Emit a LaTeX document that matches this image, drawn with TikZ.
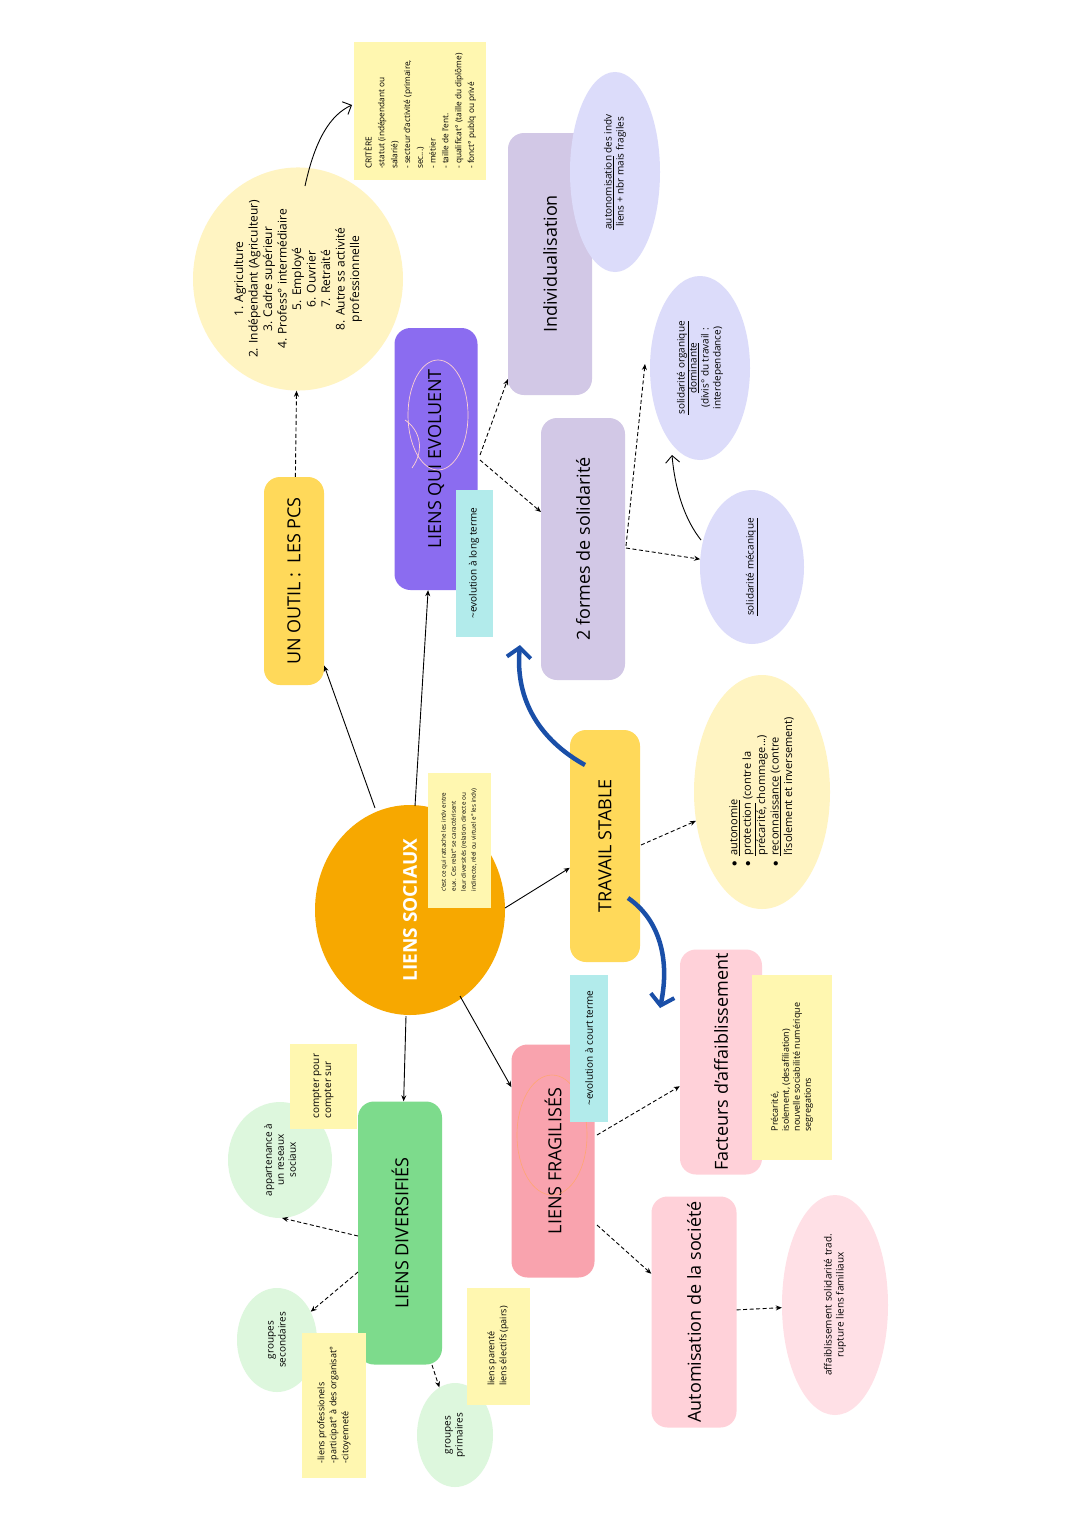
\documentclass[tikz,border=0pt]{standalone}
\usepackage{fontspec}
\setmainfont{Open Sans}
\usetikzlibrary{arrows.meta,shapes.geometric}
\definecolor{orangeM}{HTML}{F7A800}
\definecolor{yelB}{HTML}{FFD95A}
\definecolor{yelL}{HTML}{FFF4C2}
\definecolor{note}{HTML}{FFF7B0}
\definecolor{purp}{HTML}{8B6CF0}
\definecolor{lav}{HTML}{D2C8E6}
\definecolor{lavL}{HTML}{DCDCFA}
\definecolor{cyanN}{HTML}{B2EBEB}
\definecolor{pinkB}{HTML}{F9A3AE}
\definecolor{pinkL}{HTML}{FFD1D9}
\definecolor{pinkE}{HTML}{FFE0E6}
\definecolor{grn}{HTML}{7DDB8C}
\definecolor{grnL}{HTML}{DDF7DD}
\definecolor{blueA}{HTML}{1A4FA8}
\tikzset{
 box/.style={rounded corners=16pt,rotate=90,inner sep=2pt,font=\fontsize{18}{20}\selectfont,align=center},
 ell/.style={ellipse,inner sep=0pt,rotate=90,align=center},
 stick/.style={rectangle,rotate=90,inner sep=5pt,align=left,anchor=center},
 sol/.style={-{Stealth[length=6pt,width=5pt]},line width=0.9pt},
 dsh/.style={-{Stealth[length=6pt,width=5pt]},line width=0.9pt,dashed,dash pattern=on 4pt off 2.5pt},
 bluearr/.style={blueA,line width=4.5pt,-{Straight Barb[length=10pt,width=24pt,line width=4pt]}}
}
\begin{document}
\begin{tikzpicture}[x=1pt,y=-1pt]
\useasboundingbox[fill=white] (0,0) rectangle (1080,1528);
% central
\node[ell,fill=orangeM,minimum width=210pt,minimum height=190pt,text=white,font=\bfseries\fontsize{19}{21}\selectfont] (ls) at (410,910) {LIENS SOCIAUX};
\node[stick,fill=note,minimum width=135pt,minimum height=63pt,font=\fontsize{6.3}{10}\selectfont] (lsn) at (459,840) {c'est ce qui rattache les indv entre\\ eux. Ces relat° se caractérisent\\ leur diversités (relation directe ou\\ indirecte, réel ou virtuel e° les indv)};
% PCS
\node[box,fill=yelB,minimum width=208pt,minimum height=60pt] (pcs) at (294,581) {UN OUTIL :\ \ LES PCS};
\node[ell,fill=yelL,minimum width=200pt,minimum height=210pt,font=\fontsize{12}{14.5}\selectfont] (pcse) at (298,279) {1. Agriculture\\2. Indépendant (Agriculteur)\\3. Cadre supérieur\\4. Profess° intermédiaire\\5. Employé\\6. Ouvrier\\7. Retraité\\8. Autre ss activité\\professionnelle};
\node[stick,fill=note,minimum width=138pt,minimum height=132pt,font=\fontsize{8.3}{12.8}\selectfont] (crit) at (420,111) {CRITÈRE\\-statut (indépendant ou\\ salarié)\\- secteur d'activité (primaire,\\ sec...)\\- métier\\- taille de l'ent.\\- qualificat° (taille du diplôme)\\- fonct° publq ou privé};
% evolving
\node[box,fill=purp,minimum width=262pt,minimum height=83pt] (lqe) at (436,459) {LIENS QUI EVOLUENT};
\draw[pink!70,line width=0.7pt] (438,415) ellipse[x radius=30pt,y radius=55pt];
\draw[pink!70,line width=0.7pt] (405,420) .. controls (420,430) and (425,450) .. (412,468);
\node[stick,fill=cyanN,minimum width=147pt,minimum height=37pt,font=\fontsize{10}{12}\selectfont] (lqen) at (474,563) {\textasciitilde evolution à long terme};
\node[box,fill=lav,minimum width=262pt,minimum height=84pt] (ind) at (550,264) {Individualisation};
\node[ell,fill=lavL,minimum width=200pt,minimum height=90pt,font=\fontsize{10}{12}\selectfont] (aut) at (615,172) {\underline{autonomisation} des indv\\liens + nbr mais fragiles};
\node[box,fill=lav,minimum width=262pt,minimum height=84pt] (sol2) at (583,549) {2 formes de solidarité};
\node[ell,fill=lavL,minimum width=184pt,minimum height=100pt,font=\fontsize{10}{12}\selectfont] (org) at (700,368) {\underline{solidarité organique}\\\underline{dominante}\\(divis° du travail :\\interdependance)};
\node[ell,fill=lavL,minimum width=154pt,minimum height=104pt,font=\fontsize{10}{12}\selectfont] (mec) at (752,567) {\underline{solidarité mécanique}};
% travail
\node[box,fill=yelB,minimum width=232pt,minimum height=70pt] (tra) at (605,846) {TRAVAIL STABLE};
\node[ell,fill=yelL,minimum width=234pt,minimum height=136pt,font=\fontsize{11}{13.5}\selectfont] (autn) at (762,792) {\begin{tabular}{@{}l@{\ \ }l@{}}$\bullet$&\underline{autonomie}\\$\bullet$&\underline{protection} (contre la\\&précarité, chommage...)\\$\bullet$&\underline{reconnaissance} (contre\\&l'isolement et inversement)\end{tabular}};
% fragilises
\node[box,fill=pinkB,minimum width=233pt,minimum height=83pt] (fra) at (553,1161) {LIENS FRAGILISÉS};
\draw[pink!60!orange,line width=0.6pt] (552,1135) ellipse[x radius=35pt,y radius=60pt];
\node[stick,fill=cyanN,minimum width=147pt,minimum height=38pt,font=\fontsize{10}{12}\selectfont] (fran) at (589,1048) {\textasciitilde evolution à court terme};
\node[box,fill=pinkL,minimum width=225pt,minimum height=82pt] (fac) at (721,1062) {Facteurs d'affaiblissement};
\node[stick,fill=note,minimum width=185pt,minimum height=80pt,font=\fontsize{9}{11}\selectfont] (facn) at (792,1067) {Précarité,\\isolement, (desafiliation)\\nouvelle sociabilité numérique\\segregations};
\node[box,fill=pinkL,minimum width=231pt,minimum height=85pt] (aso) at (694,1312) {Automisation de la société};
\node[ell,fill=pinkE,minimum width=220pt,minimum height=106pt,font=\fontsize{10}{12}\selectfont] (aff) at (835,1305) {affaiblissement solidarité trad.\\rupture liens familiaux};
% diversifies
\node[box,fill=grn,minimum width=263pt,minimum height=84pt] (div) at (400,1233) {LIENS DIVERSIFIÉS};
\node[ell,fill=grnL,minimum width=116pt,minimum height=104pt,font=\fontsize{10}{12}\selectfont] (app) at (280,1160) {appartenance à\\un reseaux\\sociaux};
\node[stick,fill=note,minimum width=85pt,minimum height=67pt,font=\fontsize{10}{12}\selectfont] (cpt) at (323,1086) {compter pour\\compter sur};
\node[ell,fill=grnL,minimum width=104pt,minimum height=80pt,font=\fontsize{10}{12}\selectfont] (sec) at (277,1340) {groupes\\secondaires};
\node[stick,fill=note,minimum width=145pt,minimum height=64pt,font=\fontsize{9}{12}\selectfont] (secn) at (334,1405) {-liens professionels\\-participat° à des organisat°\\-citoyenneté};
\node[ell,fill=grnL,minimum width=104pt,minimum height=76pt,font=\fontsize{10}{12}\selectfont] (pri) at (455,1435) {groupes\\primaires};
\node[stick,fill=note,minimum width=117pt,minimum height=63pt,font=\fontsize{9}{12}\selectfont] (prin) at (498,1346) {liens parenté\\liens électifs (pairs)};
% solid arrows
\draw[sol] (375,808) -- (pcs);
\draw[sol] (415,806) -- (lqe);
\draw[sol] (505,908) -- (tra);
\draw[sol] (460,996) -- (fra);
\draw[sol] (406,1016) -- (div);
% dashed arrows
\draw[dsh] (pcs) -- (pcse);
\draw[dsh] (480,455) -- (ind);
\draw[dsh] (480,460) -- (541,512);
\draw[dsh] (626,546) -- (645,364);
\draw[dsh] (626,548) -- (mec);
\draw[dsh] (641,845) -- (autn);
\draw[dsh] (597,1135) -- (fac);
\draw[dsh] (597,1225) -- (aso);
\draw[dsh] (aso) -- (aff);
\draw[dsh] (358,1236) -- (282,1218);
\draw[dsh] (358,1272) -- (sec);
\draw[dsh] (432,1365) -- (pri);
% curved
\draw[sol,-{Straight Barb[length=7pt,width=14pt]}] (305,186) .. controls (315,140) and (330,115) .. (352,105);
\draw[sol,-{Straight Barb[length=7pt,width=14pt]}] (701,540) .. controls (685,520) and (675,490) .. (672,455);
\draw[bluearr] (585,765) .. controls (540,740) and (515,700) .. (520,645);
\draw[bluearr] (628,898) .. controls (660,920) and (670,960) .. (660,1008);
\end{tikzpicture}
\end{document}
